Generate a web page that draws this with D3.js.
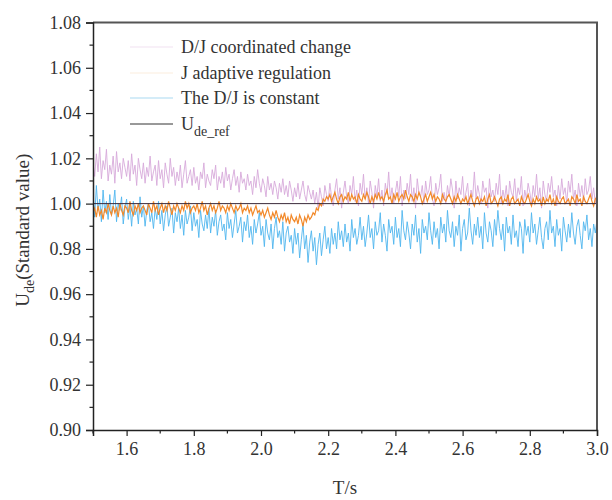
<!DOCTYPE html>
<html><head><meta charset="utf-8">
<script src="https://cdn.jsdelivr.net/npm/d3@7"></script>
<style>body{margin:0;background:#fff}svg{display:block}</style>
</head><body>
<svg id="c" width="612" height="500"></svg>
<script>
// time axis: 1.5 s to 3.0 s, step 0.005 s
const tStart = 1.5, tStep = 0.005;
// deviations from 1.000 in units of 0.001 p.u.
const pinkDev = [18,12,22,14,25,11,19,15,24,10, 17,13,21,9,23,14,18,11,20,16, 12,19,10,22,13,17,8,20,15,11, 18,9,16,12,21,10,14,17,8,19,
 11,15,7,18,13,9,20,12,16,8, 14,10,17,7,13,19,9,12,15,8, 16,9,12,6,14,11,18,7,13,10, 8,15,11,17,6,12,9,14,7,16,
 10,13,6,11,15,8,12,5,14,9, 11,6,13,8,10,4,12,7,15,9, 5,11,8,3,12,6,9,4,10,7, 2,9,5,11,4,8,3,10,6,1,
 7,3,9,2,6,10,4,1,8,5, 2,6,0,5,-2,7,3,-1,8,4, 1,9,3,-1,6,11,2,7,-2,5, 10,3,0,8,4,12,1,6,-1,9,
 4,13,2,7,0,10,5,-2,8,3, 11,1,6,-1,9,4,14,2,7,0, 5,10,3,12,-1,6,2,9,4,13, 1,7,-2,11,5,3,8,0,10,4,
 6,12,2,-1,9,4,7,13,1,5, 0,8,3,11,6,-2,10,2,7,4, 12,1,5,9,-1,6,3,14,2,8, 4,0,10,5,7,-2,11,3,6,1,
 9,4,13,0,6,2,8,-1,10,5, 3,11,1,7,4,12,-1,6,2,9, 5,0,8,3,13,2,7,-2,10,4, 1,9,5,12,3,6,-1,8,2,11,
 4,7,0,10,5,13,2,6,-1,9, 3,8,1,11,4,6,12,2,7,0,5];
const orangeDev = [-4,-2,-6,-1,-5,-3,-7,-2,-4,0, -3,-5,-1,-4,-2,-6,0,-3,-5,-1, -2,-4,1,-3,-5,-1,-3,0,-4,-2, -1,-3,-5,0,-2,-4,1,-3,-1,-5,
 -2,0,-4,-1,-3,1,-2,-5,-1,-3, 0,-2,-4,-1,-3,1,-2,0,-4,-2, -1,-3,0,-4,-2,1,-3,-1,-5,-2, 0,-3,-1,-4,-2,1,-3,-1,-2,-4,
 -1,-3,0,-2,-4,-1,-3,-2,0,-4, -2,-3,-1,-4,-2,-5,-3,-1,-4,-3, -5,-3,-6,-4,-2,-5,-7,-4,-6,-3, -6,-8,-5,-7,-4,-8,-6,-9,-5,-7,
 -8,-6,-9,-5,-7,-10,-6,-8,-5,-7, -6,-4,-5,-2,-3,0,-1,2,1,3, 2,4,1,3,5,2,0,3,4,1, 3,2,5,1,4,2,3,0,4,2,
 1,4,2,5,3,0,3,1,4,2, 5,2,3,1,4,6,2,3,0,4, 2,5,1,3,4,2,6,3,1,4, 3,1,4,2,5,3,0,2,4,1,
 3,5,2,4,1,3,2,0,4,2, 1,3,4,2,0,3,1,4,2,0, 2,1,3,0,2,4,1,-1,2,3, 0,2,1,3,-1,2,4,0,1,3,
 1,-1,2,3,0,2,1,4,-1,2, 3,0,1,2,-1,3,1,0,2,4, 1,-1,2,0,3,1,2,-1,3,0, 2,1,4,0,2,-1,3,1,0,2,
 3,0,1,2,-1,3,2,0,4,1, 2,-1,3,1,0,2,4,1,-1,2,3];
const blueDev = [5,-6,8,-3,2,-8,6,-4,1,-7, 4,-5,-1,6,-8,0,-3,3,-9,-2, 2,-7,-1,-10,1,-5,-2,-9,3,-6, -1,-10,-3,0,-8,-4,-11,-2,-7,1,
 -9,-3,-12,-5,-1,-10,-6,-2,-13,-4, -8,-2,-11,-5,-14,-3,-9,-6,-1,-12, -4,-10,-7,-15,-3,-9,-12,-5,-11,-2, -13,-6,-10,-3,-14,-8,-5,-12,-9,-16,
 -4,-11,-7,-15,-9,-3,-13,-10,-6,-17, -8,-12,-5,-15,-10,-18,-7,-13,-9,-4, -14,-10,-19,-7,-13,-16,-9,-20,-11,-6, -15,-12,-18,-8,-21,-13,-10,-17,-14,-22,
 -11,-18,-13,-24,-16,-9,-20,-14,-26,-17, -12,-21,-15,-27,-18,-13,-23,-16,-10,-20, -15,-22,-11,-18,-13,-20,-8,-16,-12,-19, -9,-17,-13,-21,-7,-15,-11,-18,-14,-6,
 -16,-10,-19,-13,-5,-15,-11,-20,-8,-14, -12,-4,-17,-9,-14,-21,-7,-13,-10,-18, -6,-15,-11,-19,-3,-12,-16,-8,-13,-20, -9,-14,-5,-17,-11,-22,-7,-13,-10,-16,
 -4,-12,-18,-8,-15,-11,-20,-6,-13,-9, -17,-3,-12,-15,-8,-19,-10,-14,-5,-21, -11,-7,-16,-13,-2,-12,-18,-9,-14,-6, -15,-10,-20,-4,-13,-17,-8,-12,-19,-7,
 -14,-3,-11,-16,-9,-21,-6,-13,-10,-18, -5,-15,-12,-19,-8,-11,-22,-7,-14,-10, -17,-4,-13,-9,-18,-12,-6,-15,-20,-11, -8,-16,-3,-13,-10,-19,-7,-14,-11,-21,
 -6,-12,-17,-9,-15,-4,-13,-18,-10,-7, -14,-20,-8,-12,-5,-16,-11,-19,-9,-13,-7];
const refValue = 1.0;
const xTicks = [1.6,1.8,2.0,2.2,2.4,2.6,2.8,3.0];
const yTicks = [0.90,0.92,0.94,0.96,0.98,1.00,1.02,1.04,1.06,1.08];
const seriesNames = ["D/J coordinated change","J adaptive regulation","The D/J is constant"];

const toSeries = dev => dev.map((d,i)=>({t: tStart + i*tStep, v: 1 + d/1000}));
const pinkData = toSeries(pinkDev), orangeData = toSeries(orangeDev), blueData = toSeries(blueDev);

const svg = d3.select("#c");
const L = 93, R = 597, T = 22.5, B = 430;
const xs = d3.scaleLinear().domain([1.5,3.0]).range([L,R]);
const ys = d3.scaleLinear().domain([0.90,1.08]).range([B,T]);
const FF = "Liberation Serif";

svg.append("clipPath").attr("id","pc").append("rect")
  .attr("x",L).attr("y",T).attr("width",R-L).attr("height",B-T);
const plotG = svg.append("g").attr("clip-path","url(#pc)");
const lineGen = d3.line().x(d=>xs(d.t)).y(d=>ys(d.v));
plotG.append("path").datum(pinkData).attr("d",lineGen).attr("fill","none").attr("stroke","#d7a9da").attr("stroke-width",0.9);
plotG.append("path").datum(blueData).attr("d",lineGen).attr("fill","none").attr("stroke","#4fb6ee").attr("stroke-width",0.9);
plotG.append("path").datum(orangeData).attr("d",lineGen).attr("fill","none").attr("stroke","#f2892a").attr("stroke-width",1.2);
plotG.append("line").attr("x1",xs(1.5)).attr("x2",xs(3.0)).attr("y1",ys(refValue)).attr("y2",ys(refValue))
  .attr("stroke","#3a2a3a").attr("stroke-width",1);

// frame top/right
svg.append("path").attr("d",`M${L},${T}H${R}V${B}`).attr("fill","none").attr("stroke","#555").attr("stroke-width",2);

// axes
const xAxis = d3.axisBottom(xs).tickValues(xTicks).tickFormat(d3.format(".1f")).tickSize(6).tickPadding(6);
const xa = svg.append("g").attr("transform",`translate(0,${B})`).call(xAxis);
const xMinor = d3.range(1.5,3.05,0.1).filter(v=>Math.abs(Math.round(v*5)-v*5)>0.01);
xa.selectAll(".minor").data(xMinor).enter().append("line").attr("class","minor")
  .attr("x1",d=>xs(d)).attr("x2",d=>xs(d)).attr("y1",0).attr("y2",3.5).attr("stroke","#222").attr("stroke-width",1.2);
const yAxis = d3.axisLeft(ys).tickValues(yTicks).tickFormat(d3.format(".2f")).tickSize(7).tickPadding(5);
const ya = svg.append("g").attr("transform",`translate(${L},0)`).call(yAxis);
const yMinor = d3.range(0.91,1.08,0.02);
ya.selectAll(".minor").data(yMinor).enter().append("line").attr("class","minor")
  .attr("x1",0).attr("x2",-3.5).attr("y1",d=>ys(d)).attr("y2",d=>ys(d)).attr("stroke","#222").attr("stroke-width",1.2);
[xa,ya].forEach(a=>{
  a.attr("font-family",FF).attr("font-size",18);
  a.select(".domain").attr("stroke","#222").attr("stroke-width",1.5);
  a.selectAll(".tick line").attr("stroke","#222").attr("stroke-width",1.2);
  a.selectAll(".tick text").attr("font-family",FF).attr("font-size",18).attr("fill","#333");
});

// axis titles
svg.append("text").attr("x",(L+R)/2).attr("y",494).attr("text-anchor","middle")
  .attr("font-family",FF).attr("font-size",19).attr("fill","#333").text("T/s");
const yt = svg.append("text").attr("transform",`translate(29,${(T+B)/2+4}) rotate(-90)`).attr("text-anchor","middle")
  .attr("font-family",FF).attr("font-size",19).attr("fill","#333");
yt.append("tspan").text("U");
yt.append("tspan").attr("font-size",14).attr("dy",5).text("de");
yt.append("tspan").attr("dy",-5).text("(Standard value)");

// legend
const legColors = ["#f1e2f1","#fbeede","#a9d9f2"];
const legY = [47,73,98];
seriesNames.forEach((n,i)=>{
  svg.append("line").attr("x1",130).attr("x2",173).attr("y1",legY[i]).attr("y2",legY[i]).attr("stroke",legColors[i]).attr("stroke-width",1.2);
  svg.append("text").attr("x",181).attr("y",legY[i]+6).attr("font-family",FF).attr("font-size",18).attr("fill","#333").text(n);
});
svg.append("line").attr("x1",130).attr("x2",173).attr("y1",124).attr("y2",124).attr("stroke","#333").attr("stroke-width",1);
const lt = svg.append("text").attr("x",181).attr("y",130).attr("font-family",FF).attr("font-size",18).attr("fill","#333");
lt.append("tspan").text("U");
lt.append("tspan").attr("font-size",14).attr("dy",6).text("de_ref");
</script>
</body></html>
